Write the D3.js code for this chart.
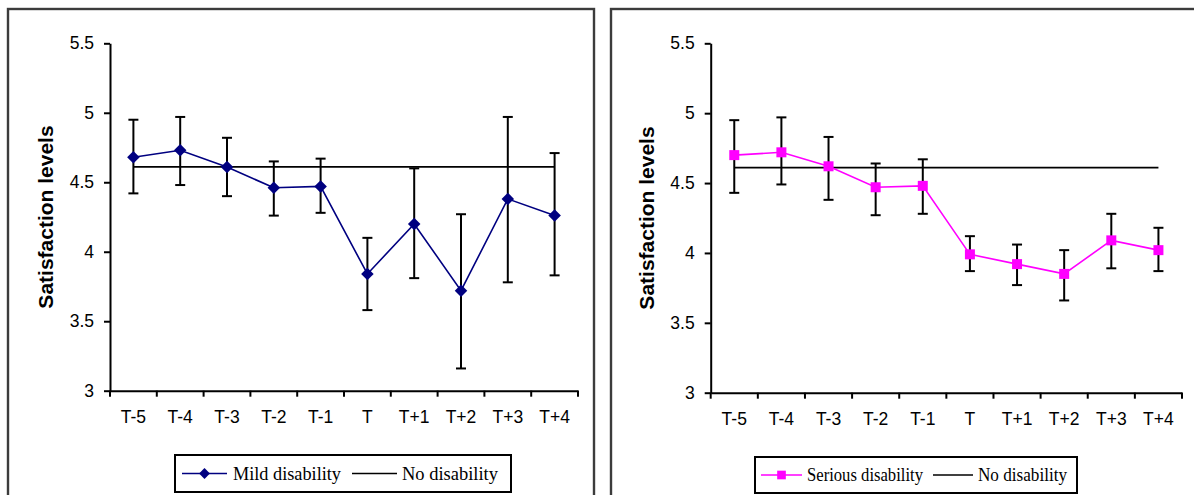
<!DOCTYPE html>
<html>
<head>
<meta charset="utf-8">
<script src="https://cdn.jsdelivr.net/npm/d3@7"></script>
<style>
  html, body { margin: 0; padding: 0; background: #fff; }
  svg { display: block; }
</style>
</head>
<body>
<svg id="chart" width="1194" height="495"></svg>
<script>
// Time points around disability onset
const categories = ["T-5", "T-4", "T-3", "T-2", "T-1", "T", "T+1", "T+2", "T+3", "T+4"];

// Mild disability: mean satisfaction with upper / lower bounds
const mildMean  = [4.68, 4.73, 4.61, 4.46, 4.47, 3.84, 4.20, 3.72, 4.38, 4.26];
const mildUpper = [4.95, 4.97, 4.82, 4.65, 4.67, 4.10, 4.60, 4.27, 4.97, 4.71];
const mildLower = [4.42, 4.48, 4.40, 4.26, 4.28, 3.58, 3.81, 3.16, 3.78, 3.83];

// Serious disability: mean satisfaction with upper / lower bounds
const seriousMean  = [4.70, 4.72, 4.62, 4.47, 4.48, 3.99, 3.92, 3.85, 4.09, 4.02];
const seriousUpper = [4.95, 4.97, 4.83, 4.64, 4.67, 4.12, 4.06, 4.02, 4.28, 4.18];
const seriousLower = [4.43, 4.49, 4.38, 4.27, 4.28, 3.87, 3.77, 3.66, 3.89, 3.87];

// Reference level for people without disability
const noDisability = [4.61, 4.61, 4.61, 4.61, 4.61, 4.61, 4.61, 4.61, 4.61, 4.61];

// Value axis ticks
const yTicks = [3, 3.5, 4, 4.5, 5, 5.5];
const yTickLabels = ["3", "3.5", "4", "4.5", "5", "5.5"];

const svg = d3.select("#chart");
const AXIS_FONT = "'Liberation Sans', Arial, sans-serif";
const LEGEND_FONT = "'Liberation Serif', 'Times New Roman', serif";

function drawPanel(p) {
  const g = svg.append("g");

  // Outer frame of the panel
  g.append("rect")
    .attr("x", p.frame[0]).attr("y", p.frame[1])
    .attr("width", p.frame[2]).attr("height", p.frame[3])
    .attr("fill", "#fff").attr("stroke", "#3c3c3c").attr("stroke-width", 2.4);

  const x = d3.scaleBand().domain(categories).range([p.left, p.right]).padding(0);
  const y = d3.scaleLinear().domain([3, 5.5]).range([p.bottom, p.top]);
  const cx = c => x(c) + x.bandwidth() / 2;

  // Y axis
  const yAxis = g.append("g")
    .attr("transform", `translate(${p.left},0)`)
    .call(d3.axisLeft(y).tickValues(yTicks)
      .tickFormat((d, i) => yTickLabels[i]).tickSize(6).tickPadding(10).tickSizeOuter(0));
  yAxis.select(".domain").attr("stroke", "#000").attr("stroke-width", 2);
  yAxis.selectAll(".tick line").attr("stroke", "#000").attr("stroke-width", 2);
  yAxis.selectAll(".tick text")
    .attr("font-family", AXIS_FONT).attr("font-size", 17.5).attr("fill", "#000");

  // X axis: labels centred in each category, ticks on category boundaries
  const xAxis = g.append("g")
    .attr("transform", `translate(0,${p.bottom})`)
    .call(d3.axisBottom(x).tickSize(0).tickPadding(20).tickSizeOuter(0));
  xAxis.select(".domain").attr("stroke", "#000").attr("stroke-width", 2);
  xAxis.selectAll(".tick text")
    .attr("font-family", AXIS_FONT).attr("font-size", 17.5).attr("fill", "#000");
  const bounds = categories.map(c => x(c)).concat([p.right]);
  g.append("g").selectAll("line").data(bounds).join("line")
    .attr("x1", d => d).attr("x2", d => d)
    .attr("y1", p.bottom).attr("y2", p.bottom + 6)
    .attr("stroke", "#000").attr("stroke-width", 2);

  // Axis title
  g.append("text")
    .attr("transform", `translate(${p.titleX},${(p.top + p.bottom) / 2}) rotate(-90)`)
    .attr("text-anchor", "middle")
    .attr("font-family", AXIS_FONT).attr("font-weight", "bold")
    .attr("font-size", 21).attr("fill", "#000")
    .text("Satisfaction levels");

  // No-disability reference line
  g.append("path")
    .datum(noDisability)
    .attr("fill", "none").attr("stroke", "#000").attr("stroke-width", 1.8)
    .attr("d", d3.line().x((d, i) => cx(categories[i])).y(d => y(d)));

  // Series line
  g.append("path")
    .datum(p.mean)
    .attr("fill", "none").attr("stroke", p.color).attr("stroke-width", 1.6)
    .attr("d", d3.line().x((d, i) => cx(categories[i])).y(d => y(d)));

  // Error bars
  const eb = g.append("g").attr("stroke", "#000").attr("stroke-width", 2);
  categories.forEach((c, i) => {
    const xc = cx(c);
    eb.append("line").attr("x1", xc).attr("x2", xc)
      .attr("y1", y(p.upper[i])).attr("y2", y(p.lower[i]));
    eb.append("line").attr("x1", xc - 5).attr("x2", xc + 5)
      .attr("y1", y(p.upper[i])).attr("y2", y(p.upper[i]));
    eb.append("line").attr("x1", xc - 5).attr("x2", xc + 5)
      .attr("y1", y(p.lower[i])).attr("y2", y(p.lower[i]));
  });

  // Markers
  const sym = d3.symbol().type(p.marker).size(p.markerSize);
  g.append("g").selectAll("path").data(p.mean).join("path")
    .attr("transform", (d, i) => `translate(${cx(categories[i])},${y(d)})`)
    .attr("d", sym)
    .attr("fill", p.color);

  // Legend
  const L = p.legend;
  const lg = g.append("g");
  lg.append("rect").attr("x", L.box[0]).attr("y", L.box[1])
    .attr("width", L.box[2]).attr("height", L.box[3])
    .attr("fill", "#fff").attr("stroke", "#000").attr("stroke-width", 2);
  const ly = L.box[1] + L.box[3] / 2;
  lg.append("line").attr("x1", L.s1[0]).attr("x2", L.s1[1]).attr("y1", ly).attr("y2", ly)
    .attr("stroke", p.color).attr("stroke-width", 1.6);
  lg.append("path").attr("transform", `translate(${(L.s1[0] + L.s1[1]) / 2},${ly})`)
    .attr("d", d3.symbol().type(p.marker).size(p.markerSize * 0.75)).attr("fill", p.color);
  lg.append("text").attr("x", L.t1[0]).attr("y", ly + 6)
    .attr("textLength", L.t1[1]).attr("lengthAdjust", "spacingAndGlyphs")
    .attr("font-family", LEGEND_FONT).attr("font-size", 18).attr("fill", "#000")
    .text(p.name);
  lg.append("line").attr("x1", L.s2[0]).attr("x2", L.s2[1]).attr("y1", ly).attr("y2", ly)
    .attr("stroke", "#000").attr("stroke-width", 1.6);
  lg.append("text").attr("x", L.t2[0]).attr("y", ly + 6)
    .attr("textLength", L.t2[1]).attr("lengthAdjust", "spacingAndGlyphs")
    .attr("font-family", LEGEND_FONT).attr("font-size", 18).attr("fill", "#000")
    .text("No disability");
}

drawPanel({
  frame: [8, 9, 586, 520],
  left: 110, right: 578, top: 43.3, bottom: 390.7, titleX: 53,
  mean: mildMean, upper: mildUpper, lower: mildLower,
  color: "#000080", marker: d3.symbolDiamond2, markerSize: 100,
  name: "Mild disability",
  legend: { box: [175, 455, 336, 37], s1: [182, 227], t1: [233, 108], s2: [352, 397], t2: [402, 96] }
});

drawPanel({
  frame: [611, 9, 620, 520],
  left: 710.7, right: 1182, top: 43.3, bottom: 392.7, titleX: 654,
  mean: seriousMean, upper: seriousUpper, lower: seriousLower,
  color: "#ff00ff", marker: d3.symbolSquare, markerSize: 100,
  name: "Serious disability",
  legend: { box: [755, 457, 322, 36], s1: [761, 802], t1: [807, 116], s2: [933, 973], t2: [978, 89] }
});
</script>
</body>
</html>
